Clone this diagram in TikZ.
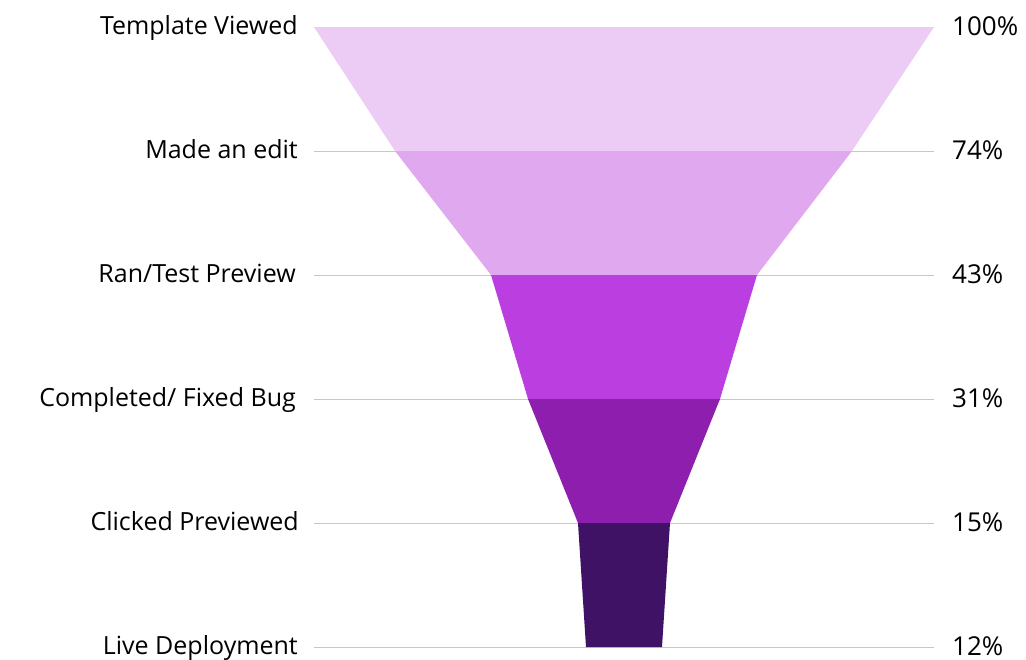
\documentclass[tikz,border=0pt]{standalone}
\usepackage{fontspec}
\setmainfont{Open Sans}
\definecolor{c1}{HTML}{ECCBF5}
\definecolor{c2}{HTML}{E0A8EE}
\definecolor{c3}{HTML}{BB3FE0}
\definecolor{c4}{HTML}{8E1EAD}
\definecolor{c5}{HTML}{3F1266}
\definecolor{grid}{HTML}{C8C8C8}
\begin{document}
\begin{tikzpicture}[x=1pt,y=-1pt,
  gridline/.style={draw=grid,line width=1pt},
  lab/.style={anchor=base east,inner sep=0pt,font=\fontsize{25}{28}\selectfont},
  pct/.style={anchor=base west,inner sep=0pt,font=\fontsize{26}{29}\selectfont}]
\useasboundingbox (0,0) rectangle (1026,659);
% level coordinates
\coordinate (gl0) at (314,27);  \coordinate (gr0) at (934,27);
\coordinate (gl1) at (314,151); \coordinate (gr1) at (934,151);
\coordinate (gl2) at (314,275); \coordinate (gr2) at (934,275);
\coordinate (gl3) at (314,399); \coordinate (gr3) at (934,399);
\coordinate (gl4) at (314,523); \coordinate (gr4) at (934,523);
\coordinate (gl5) at (314,647); \coordinate (gr5) at (934,647);
\foreach \i in {0,...,5} {\draw[gridline] (gl\i) -- (gr\i);}
% funnel segments
\fill[c1] (314,27) -- (934,27) -- (852,151) -- (395,151) -- cycle;
\fill[c2] (395,151) -- (852,151) -- (757,275) -- (491,275) -- cycle;
\fill[c3] (491,275) -- (757,275) -- (720,399) -- (528,399) -- cycle;
\fill[c4] (528,399) -- (720,399) -- (670,523) -- (578,523) -- cycle;
\fill[c5] (578,523) -- (670,523) -- (662,647) -- (586,647) -- cycle;
% labels
\node[lab] (l0) at (298,34) {Template Viewed};
\node[lab] (l1) at (298,158) {Made an edit};
\node[lab] (l2) at (296,282) {Ran/Test Preview};
\node[lab] (l3) at (296,406) {Completed/ Fixed Bug};
\node[lab] (l4) at (299,530) {Clicked Previewed};
\node[lab] (l5) at (298,654) {Live Deployment};
\node[pct] (p0) at (952,35) {100\%};
\node[pct] (p1) at (952,159) {74\%};
\node[pct] (p2) at (952,283) {43\%};
\node[pct] (p3) at (952,407) {31\%};
\node[pct] (p4) at (952,531) {15\%};
\node[pct] (p5) at (952,655) {12\%};
\end{tikzpicture}
\end{document}
